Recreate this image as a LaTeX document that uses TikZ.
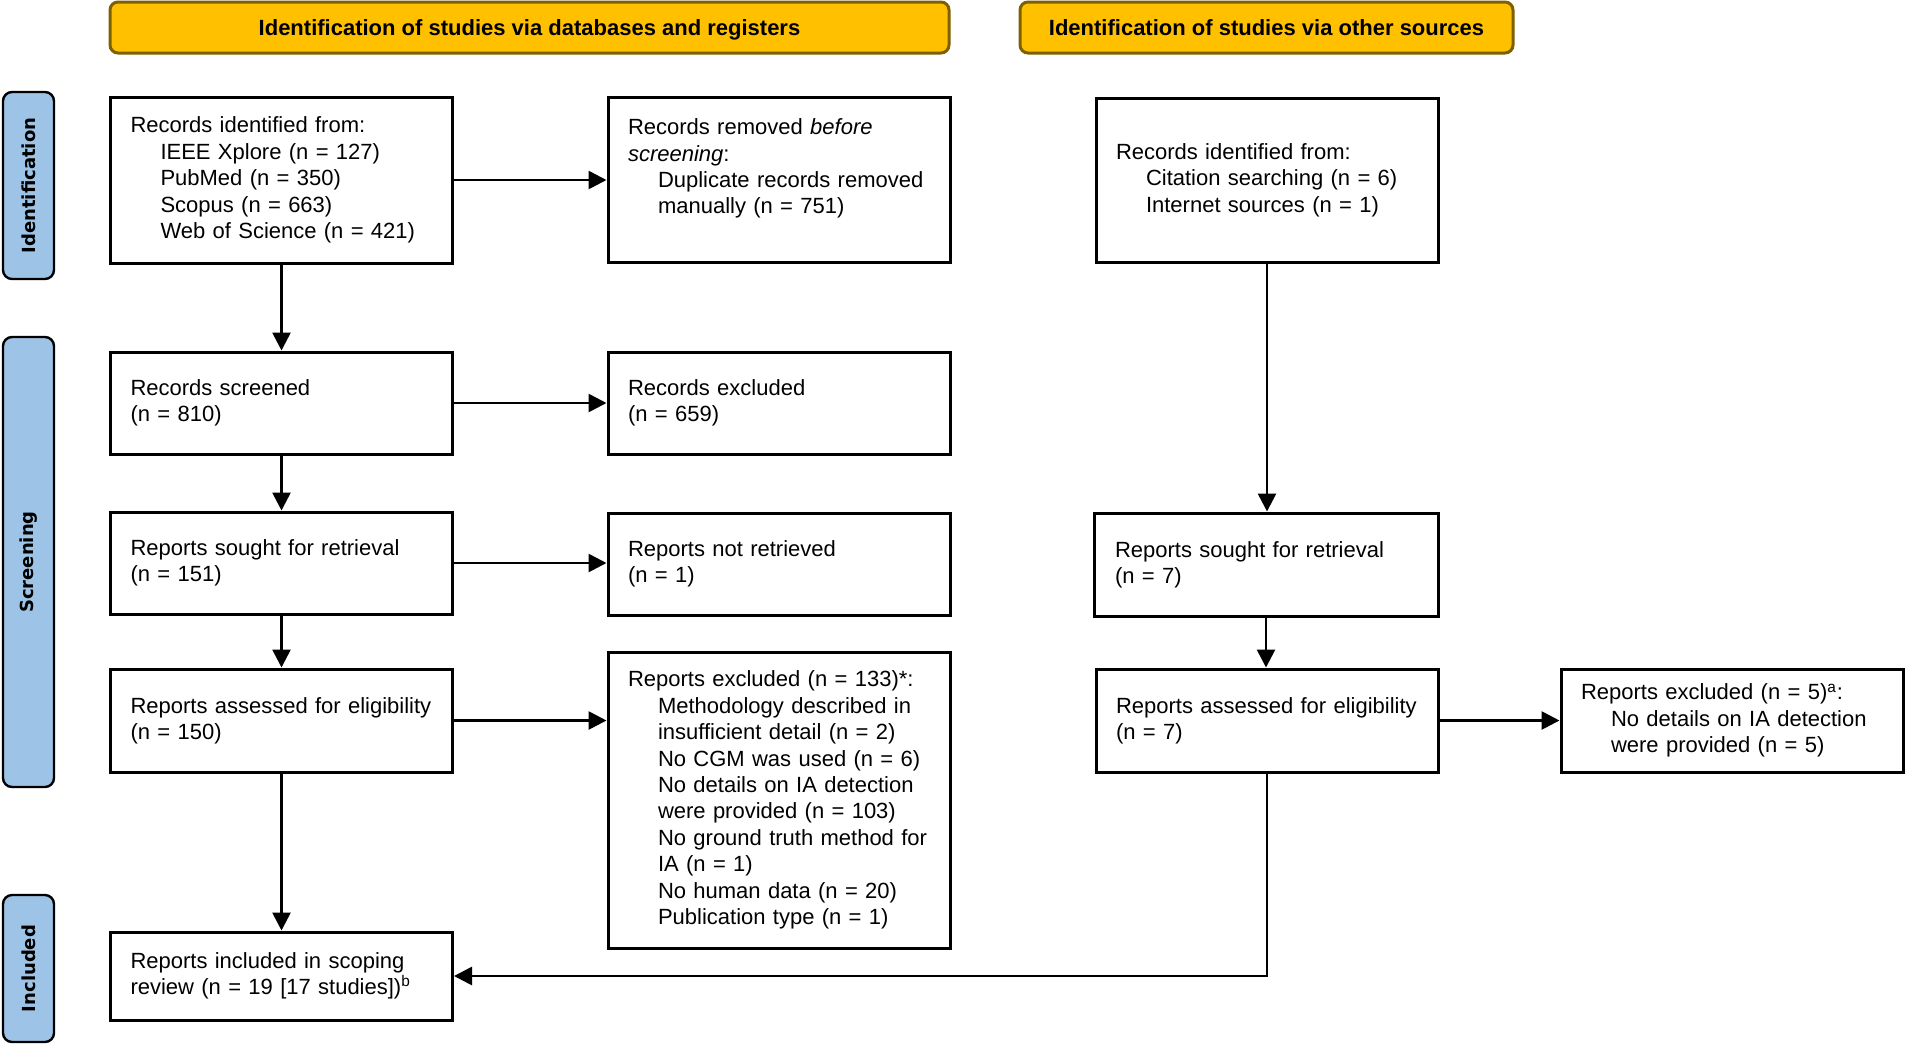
\documentclass[tikz,border=0pt]{standalone}
\usepackage{fontspec}
\setmainfont{Liberation Sans}
\newfontfamily\bandfont{DejaVu Sans}
\usetikzlibrary{arrows.meta,calc}
\definecolor{headfill}{HTML}{FFC000}
\definecolor{headdraw}{HTML}{7F6000}
\definecolor{bandfill}{HTML}{9DC3E6}
\newcommand{\ind}{\hspace*{15pt}}
\begin{document}
\begin{tikzpicture}[x=0.5pt,y=-0.5pt,
  every node/.style={font=\fontsize{11}{13.2}\selectfont},
  box/.style={draw=black, line width=1.5pt, rectangle, inner xsep=10pt, inner ysep=0pt,
    text width=151pt, align=left, minimum width=171pt},
  header/.style={draw=headdraw, fill=headfill, line width=1.5pt, rounded corners=4pt,
    font=\fontsize{11}{13.2}\selectfont\bfseries, align=center, inner sep=0pt,
    text height=8pt, text depth=0pt},
  band/.style={draw=black, fill=bandfill, line width=1.2pt, rounded corners=4.5pt,
    minimum width=25.5pt, inner sep=0pt},
  bandtext/.style={font=\bandfont\fontsize{9}{11}\selectfont\bfseries, rotate=90},
  arr/.style={line width=1.35pt, -{Triangle[length=9pt,width=9pt]}},
  conn/.style={line width=1.35pt}
]
\useasboundingbox (0,0) rectangle (1905,1046);

% headers
\node[header, minimum width=419.5pt, minimum height=25.5pt] (h1) at (529.5,27.5)
  {Identification of studies via databases and registers};
\node[header, minimum width=246.5pt, minimum height=25.5pt] (h2) at (1266.5,27.5)
  {Identification of studies via other sources};

% side bands
\node[band, minimum height=93.5pt] (b1) at (28.5,185.5) {};
\node[bandtext] (b1t) at (b1.center) {Identification};
\node[band, minimum height=225pt] (b2) at (28.5,562) {};
\node[bandtext] (b2t) at (b2.center) {Screening};
\node[band, minimum height=73.5pt] (b3) at (28.5,968.5) {};
\node[bandtext] (b3t) at (b3.center) {Included};

% left column
\node[box, minimum height=83pt] (recid) at (281.5,180)
  {Records identified from:\\
   \ind IEEE Xplore (n = 127)\\
   \ind PubMed (n = 350)\\
   \ind Scopus (n = 663)\\
   \ind Web of Science (n = 421)};
\node[box, minimum height=51pt] (screened) at (281.5,403)
  {Records screened\\(n = 810)};
\node[box, minimum height=51pt] (sought) at (281.5,563)
  {Reports sought for retrieval\\(n = 151)};
\node[box, minimum height=51.5pt] (assessed) at (281.5,720.5)
  {Reports assessed for eligibility\\(n = 150)};
\node[box, minimum height=44pt] (included) at (281.5,976)
  {Reports included in scoping\\review (n = 19 [17 studies])\textsuperscript{b}};

% middle column
\node[box, minimum height=82.5pt] (removed) at (779,179.5)
  {Records removed \textit{before}\\
   \textit{screening}:\\
   \ind Duplicate records removed\\
   \ind manually (n = 751)\\
   \mbox{}};
\node[box, minimum height=51pt] (excluded) at (779,403)
  {Records excluded\\(n = 659)};
\node[box, minimum height=51pt] (notretr) at (779,564)
  {Reports not retrieved\\(n = 1)};
\node[box, minimum height=148pt] (excl133) at (779,800)
  {Reports excluded (n = 133)*:\\
   \ind Methodology described in\\
   \ind insufficient detail (n = 2)\\
   \ind No CGM was used (n = 6)\\
   \ind No details on IA detection\\
   \ind were provided (n = 103)\\
   \ind No ground truth method for\\
   \ind IA (n = 1)\\
   \ind No human data (n = 20)\\
   \ind Publication type (n = 1)};

% right columns
\node[box, minimum height=82pt] (otherid) at (1267,180)
  {Records identified from:\\
   \ind Citation searching (n = 6)\\
   \ind Internet sources (n = 1)};
\node[box, minimum height=51.5pt, minimum width=172pt] (sought2) at (1266,564.5)
  {Reports sought for retrieval\\(n = 7)};
\node[box, minimum height=51.5pt] (assessed2) at (1267,720.5)
  {Reports assessed for eligibility\\(n = 7)};
\node[box, minimum height=51.5pt] (excl5) at (1732,720.5)
  {Reports excluded (n = 5)\textsuperscript{a}:\\
   \ind No details on IA detection\\
   \ind were provided (n = 5)};

% connectors
\draw[arr] (recid.east) -- (recid.east -| removed.west);
\draw[arr] (recid.south) -- (screened.north);
\draw[arr] (screened.east) -- (excluded.west);
\draw[arr] (screened.south) -- (sought.north);
\draw[arr] (sought.east) -- (sought.east -| notretr.west);
\draw[arr] (sought.south) -- (assessed.north);
\draw[arr] (assessed.east) -- (assessed.east -| excl133.west);
\draw[arr] (assessed.south) -- (included.north);
\draw[arr] (otherid.south) -- (otherid.south |- sought2.north);
\draw[arr] (sought2.south) -- (sought2.south |- assessed2.north);
\draw[arr] (assessed2.east) -- (excl5.west);
\draw[arr] (assessed2.south) |- (included.east);
\end{tikzpicture}
\end{document}
